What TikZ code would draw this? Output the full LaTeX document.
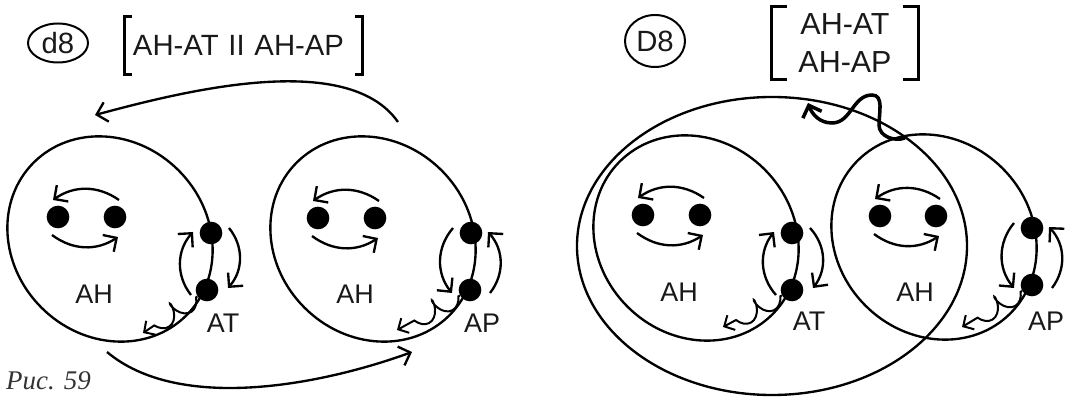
\documentclass[tikz,border=0pt]{standalone}
\usepackage{fontspec}
\setmainfont{Liberation Sans}
\newfontfamily\capfont{Liberation Serif}
\usetikzlibrary{shapes.geometric, arrows.meta, decorations.pathmorphing, calc}

\begin{document}
\begin{tikzpicture}[
    x=0.03cm, y=0.03cm,
    % Node styles
    cell/.style={
        ellipse,
        draw,
        line width=2pt,
        minimum width=6.48cm,
        minimum height=5.82cm,
        inner sep=0pt,
        rotate=-45
    },
    outer/.style={
        ellipse,
        draw,
        line width=2pt,
        minimum width=11.7cm,
        minimum height=8.94cm,
        inner sep=0pt
    },
    dot/.style={
        circle,
        fill=black,
        inner sep=0pt,
        minimum size=0.68cm
    },
    lab/.style={
        font=\fontsize{23}{27}\selectfont,
        text=black!90,
        inner sep=0pt
    },
    tag/.style={
        ellipse,
        draw,
        line width=1.7pt,
        inner sep=0pt,
        minimum width=1.8cm,
        font=\fontsize{25}{29}\selectfont,
        text=black!90
    },
    brtext/.style={
        inner sep=0pt,
        text=black!90
    },
    brk/.style={
        line width=2.6pt
    },
    arr/.style={
        -{Straight Barb[length=3mm, width=6mm]},
        line width=2pt
    },
    coilarr/.style={
        decorate,
        decoration={coil, amplitude=2.8mm, segment length=8mm, aspect=0.55,
            pre length=0.5mm, post length=1.5mm},
        -{Straight Barb[length=2.4mm, width=5mm]},
        line width=1.7pt
    },
    bigwave/.style={
        -{Straight Barb[length=3mm, width=6mm]},
        line width=3pt
    },
    caption/.style={
        font=\capfont\itshape\fontsize{23}{27}\selectfont,
        text=black!80,
        inner sep=0pt
    }
]
\useasboundingbox (0,0) rectangle (1065,397);

% --- Left panel: d8 ---
\node[tag, minimum height=1.17cm] (tagA) at (58,354) {d8};
\node[brtext, font=\fontsize{25}{29}\selectfont, minimum width=7.11cm, minimum height=1.71cm,
    inner xsep=0.24cm, text width=6.63cm, align=left] (brA) at (243.5,351.5) {AH-AT II AH-AP};
\draw[brk] ([xshift=0.21cm]brA.north west) -- (brA.north west) -- (brA.south west) -- ([xshift=0.21cm]brA.south west);
\draw[brk] ([xshift=-0.21cm]brA.north east) -- (brA.north east) -- (brA.south east) -- ([xshift=-0.21cm]brA.south east);

% cell A
\node[cell] (A) at (110,158) {};
\node[dot] (a1) at (58,180) {};
\node[dot] (a2) at (115,180) {};
\node[dot] (au) at (211,164) {};
\node[dot] (al) at (207,107) {};
\node[lab] (ahA) at (94,103) {AH};
\node[lab] (atA) at (223,74) {AT};
\coordinate (aw) at (143,64);

% cell B
\node[cell] (B) at (373,158) {};
\node[dot] (b1) at (318,179) {};
\node[dot] (b2) at (375,179) {};
\node[dot] (bu) at (471,164) {};
\node[dot] (bl) at (470,107) {};
\node[lab] (ahB) at (355,103) {AH};
\node[lab] (apB) at (482,74) {AP};
\coordinate (bw) at (397,67);

% --- Right panel: D8 ---
\node[tag, minimum height=1.56cm] (tagB) at (655,356) {D8};
\node[brtext, font=\fontsize{26}{32.5}\selectfont, align=center, minimum width=4.38cm,
    minimum height=2.19cm] (brB) at (845,354) {AH-AT\\AH-AP};
\draw[brk] ([xshift=0.45cm]brB.north west) -- (brB.north west) -- (brB.south west) -- ([xshift=0.45cm]brB.south west);
\draw[brk] ([xshift=-0.45cm]brB.north east) -- (brB.north east) -- (brB.south east) -- ([xshift=-0.45cm]brB.south east);

\node[outer] (loop) at (772,151) {};

% cell C
\node[cell] (C) at (696,159) {};
\node[dot] (c1) at (643,182) {};
\node[dot] (c2) at (700,182) {};
\node[dot] (cu) at (792,164) {};
\node[dot] (cl) at (792,107) {};
\node[lab] (ahC) at (679,105) {AH};
\node[lab] (atC) at (809,76) {AT};
\coordinate (cw) at (723,70);

% cell D
\node[cell] (D) at (934,160) {};
\node[dot] (d1) at (880,181) {};
\node[dot] (d2) at (936,181) {};
\node[dot] (du) at (1032,169) {};
\node[dot] (dl) at (1032,112) {};
\node[lab] (ahD) at (915,105) {AH};
\node[lab] (apD) at (1046,76) {AP};
\coordinate (dw) at (962,70);

% wave above the cells
\coordinate (v1) at (879,272);
\coordinate (v2) at (872,302);
\coordinate (v3) at (832,274);
\coordinate (wtip) at (808,294);

% --- Arrows inside the cells ---
\draw[arr] ([shift={(4,17)}]a2.center) to[bend right=35] ([shift={(-5,17)}]a1.center);
\draw[arr] ([shift={(-6,-18)}]a1.center) to[bend right=35] ([shift={(3,-20)}]a2.center);
\draw[arr] ([shift={(4,17)}]b2.center) to[bend right=35] ([shift={(-5,17)}]b1.center);
\draw[arr] ([shift={(-6,-18)}]b1.center) to[bend right=35] ([shift={(3,-20)}]b2.center);
\draw[arr] ([shift={(4,17)}]c2.center) to[bend right=35] ([shift={(-5,17)}]c1.center);
\draw[arr] ([shift={(-6,-18)}]c1.center) to[bend right=35] ([shift={(3,-20)}]c2.center);
\draw[arr] ([shift={(4,17)}]d2.center) to[bend right=35] ([shift={(-5,17)}]d1.center);
\draw[arr] ([shift={(-6,-18)}]d1.center) to[bend right=35] ([shift={(3,-20)}]d2.center);

% --- Arrows along the edge ---
\draw[arr] ([shift={(-16,-5)}]al.center) to[bend left=40] ([shift={(-18,1)}]au.center);
\draw[arr] ([shift={(18,5)}]au.center) to[bend left=40] ([shift={(21,2)}]al.center);
\draw[arr] ([shift={(-18,5)}]bu.center) to[bend right=40] ([shift={(-18,-3)}]bl.center);
\draw[arr] ([shift={(20,-3)}]bl.center) to[bend right=40] ([shift={(17,1)}]bu.center);
\draw[arr] ([shift={(-16,-5)}]cl.center) to[bend left=40] ([shift={(-18,1)}]cu.center);
\draw[arr] ([shift={(18,5)}]cu.center) to[bend left=40] ([shift={(21,2)}]cl.center);
\draw[arr] ([shift={(-18,5)}]du.center) to[bend right=40] ([shift={(-18,-3)}]dl.center);
\draw[arr] ([shift={(20,-3)}]dl.center) to[bend right=40] ([shift={(17,1)}]du.center);

% wavy exits
\draw[coilarr] (al) -- (aw);
\draw[coilarr] (bl) -- (bw);
\draw[coilarr] (cl) -- (cw);
\draw[coilarr] (dl) -- (dw);

% --- Between the cells ---
\draw[arr] ([shift={(25,117)}]B.center) to[out=125, in=15, looseness=0.75] ([shift={(-15,124)}]A.center);
\draw[arr] ([shift={(-3,-113)}]A.center) to[out=-40, in=-160, looseness=0.8] ([shift={(39,-113)}]B.center);
\draw[bigwave] ([shift={(-29,99)}]D.center) to[out=200, in=-90] (v1) to[out=90, in=0] (v2)
    to[out=180, in=0] (v3) to[out=180, in=-70] (wtip);

% caption
\node[caption, anchor=base west] (fig) at (6,7) {Рис. 59};

\end{tikzpicture}
\end{document}
